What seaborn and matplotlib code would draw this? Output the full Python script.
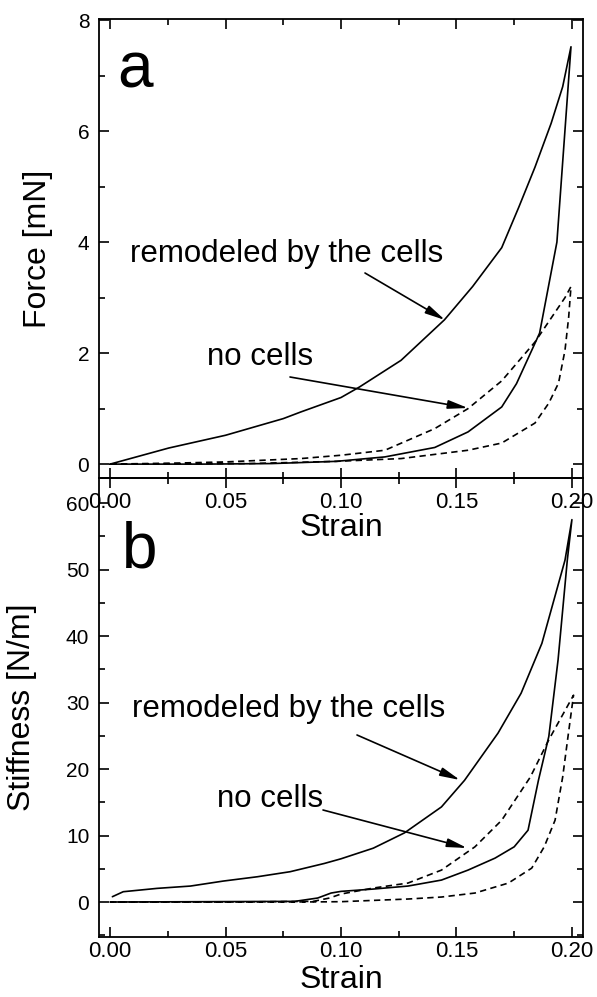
import numpy as np
import pandas as pd
import matplotlib
matplotlib.use("Agg")
import matplotlib.pyplot as plt
from matplotlib.ticker import MultipleLocator
import seaborn as sns

# ---------------- data ----------------
# Panel a: Force [mN] vs Strain
f_cells_load_x = [0.0, 0.0254, 0.05, 0.075, 0.0826, 0.1, 0.108, 0.126, 0.1448, 0.157, 0.1696,
                  0.177, 0.184, 0.191, 0.196, 0.1996]
f_cells_load_y = [0.0, 0.29, 0.52, 0.82, 0.94, 1.2, 1.39, 1.87, 2.6, 3.2, 3.9,
                  4.63, 5.35, 6.14, 6.8, 7.52]
f_cells_unl_x = [0.1996, 0.1935, 0.186, 0.1826, 0.176, 0.1696, 0.155, 0.1406, 0.119, 0.098, 0.07, 0.04, 0.0]
f_cells_unl_y = [7.52, 4.0, 2.36, 2.05, 1.45, 1.03, 0.58, 0.3, 0.13, 0.05, 0.01, 0.0, 0.0]
f_none_load_x = [0.0, 0.03, 0.05, 0.0826, 0.1, 0.119, 0.1406, 0.155, 0.1696, 0.184, 0.197, 0.1996]
f_none_load_y = [0.0, 0.02, 0.04, 0.1, 0.16, 0.25, 0.64, 1.0, 1.5, 2.2, 3.0, 3.2]
f_none_unl_x = [0.1996, 0.1986, 0.197, 0.1942, 0.19, 0.184, 0.1696, 0.155, 0.126, 0.098, 0.06, 0.0]
f_none_unl_y = [3.2, 2.65, 2.05, 1.46, 1.1, 0.74, 0.38, 0.25, 0.1, 0.05, 0.01, 0.0]

# Panel b: Stiffness [N/m] vs Strain
s_cells_load_x = [0.001, 0.0057, 0.0203, 0.0348, 0.049, 0.0638, 0.078, 0.0928, 0.1, 0.114, 0.1275,
                  0.1435, 0.1535, 0.168, 0.178, 0.187, 0.197, 0.2]
s_cells_load_y = [0.8, 1.55, 2.05, 2.4, 3.15, 3.8, 4.56, 5.8, 6.5, 8.1, 10.4,
                  14.3, 18.3, 25.4, 31.4, 38.9, 51.4, 57.5]
s_cells_unl_x = [0.2, 0.198, 0.194, 0.19, 0.1855, 0.181, 0.175, 0.1667, 0.155, 0.1435, 0.129,
                 0.114, 0.1, 0.0957, 0.0899, 0.08, 0.04, 0.0]
s_cells_unl_y = [57.5, 51.4, 36.4, 24.9, 18.3, 10.8, 8.3, 6.6, 4.8, 3.3, 2.4,
                 1.95, 1.6, 1.35, 0.6, 0.1, 0.05, 0.0]
s_none_load_x = [0.0, 0.05, 0.088, 0.095, 0.1, 0.114, 0.129, 0.1435, 0.158, 0.1696, 0.182, 0.19, 0.2007]
s_none_load_y = [0.0, 0.0, 0.1, 0.6, 1.2, 2.1, 2.85, 4.8, 8.3, 12.3, 18.8, 24.4, 31.1]
s_none_unl_x = [0.2007, 0.1985, 0.196, 0.1927, 0.188, 0.1826, 0.1725, 0.158, 0.1435, 0.129, 0.1, 0.09, 0.05, 0.0]
s_none_unl_y = [31.1, 25.4, 18.8, 12.3, 8.3, 5.1, 2.85, 1.35, 0.75, 0.45, 0.05, 0.02, 0.0, 0.0]

x_ticks = [0.00, 0.05, 0.10, 0.15, 0.20]
x_ticklabels = ["0.00", "0.05", "0.10", "0.15", "0.20"]
force_ticks = [0, 2, 4, 6, 8]
stiff_ticks = [0, 10, 20, 30, 40, 50, 60]

label_cells = "remodeled by the cells"
label_none = "no cells"

# ---------------- style ----------------
sns.set_theme(style="ticks")
plt.rcParams['font.family'] = ['Liberation Sans', 'DejaVu Sans']
plt.rcParams['axes.linewidth'] = 1.3
for k in ("text.color", "axes.labelcolor", "xtick.color", "ytick.color", "axes.edgecolor"):
    plt.rcParams[k] = "black"

W, H = 597, 997
fig = plt.figure(figsize=(W / 100, H / 100), dpi=100)
fig.patch.set_facecolor("white")

def frac(px, py):
    return (px / W, 1 - py / H)

L, R = 99, 583
ax2 = fig.add_axes([L / W, 1 - 937 / H, (R - L) / W, (937 - 478) / H])
ax1 = fig.add_axes([L / W, 1 - 478 / H, (R - L) / W, (478 - 19) / H])
ax1.set_zorder(3)
ax2.set_zorder(2)

DASH = (0, (3.8, 2.6))

def draw(ax, lx, ly, ux, uy, ls):
    df = pd.DataFrame({"x": list(lx) + list(ux), "y": list(ly) + list(uy)})
    sns.lineplot(data=df, x="x", y="y", sort=False, estimator=None, ax=ax,
                 color="black", lw=1.2, linestyle=ls)

draw(ax1, f_cells_load_x, f_cells_load_y, f_cells_unl_x, f_cells_unl_y, "-")
draw(ax1, f_none_load_x, f_none_load_y, f_none_unl_x, f_none_unl_y, DASH)
draw(ax2, s_cells_load_x, s_cells_load_y, s_cells_unl_x, s_cells_unl_y, "-")
draw(ax2, s_none_load_x, s_none_load_y, s_none_unl_x, s_none_unl_y, DASH)

for ax in (ax1, ax2):
    ax.set_xlim(-0.0048, 0.2048)
    ax.set_xticks(x_ticks)
    ax.set_xticklabels(x_ticklabels)
    ax.xaxis.set_minor_locator(MultipleLocator(0.025))
    ax.tick_params(which="both", direction="in", top=True, right=True,
                   colors="black", width=1.2)
    ax.tick_params(which="major", length=7)
    ax.tick_params(which="minor", length=4)
    ax.tick_params(axis="y", labelsize=15, pad=7)
    for sp in ax.spines.values():
        sp.set_visible(True)
        sp.set_color("black")
    ax.patch.set_alpha(0.0)
    ax.set_xlabel("Strain", fontsize=23)
    ax.xaxis.label.set_va("top")

ax1.tick_params(axis="x", labelsize=16, pad=10)
ax2.tick_params(axis="x", labelsize=16, pad=3)

ax1.set_ylim(-0.25, 8.02)
ax1.set_yticks(force_ticks)
ax1.yaxis.set_minor_locator(MultipleLocator(1))
ax1.set_ylabel("Force [mN]", fontsize=23)
ax1.yaxis.label.set_va("center")
ax1.yaxis.set_label_coords((38 - L) / (R - L), 0.5)
ax1.xaxis.set_label_coords(0.5, (478 - 513) / 459)

ax2.set_ylim(-5.26, 63.76)
ax2.set_yticks(stiff_ticks)
ax2.yaxis.set_minor_locator(MultipleLocator(5))
ax2.set_ylabel("Stiffness [N/m]", fontsize=23)
ax2.yaxis.label.set_va("center")
ax2.yaxis.set_label_coords((22 - L) / (R - L), 0.5)
ax2.xaxis.set_label_coords(0.5, (937 - 965) / 459)

# panel letters
fig.text(*frac(117, 87), "a", fontsize=46, va="baseline", ha="left")
fig.text(*frac(122, 567), "b", fontsize=46, va="baseline", ha="left")

# annotations
fig.text(*frac(130, 262), label_cells, fontsize=22.5, va="baseline", ha="left")
fig.text(*frac(207, 365), label_none, fontsize=22.5, va="baseline", ha="left")
fig.text(*frac(132, 717), label_cells, fontsize=22.5, va="baseline", ha="left")
fig.text(*frac(217, 807), label_none, fontsize=22.5, va="baseline", ha="left")

arrow_kw = dict(arrowstyle="-|>,head_length=0.6,head_width=0.13", color="black", lw=1.2,
                shrinkA=0, shrinkB=0)
for (x0, y0, x1, y1) in [(365, 273, 445, 320), (290, 377, 468, 408),
                         (357, 735, 460, 780), (323, 810, 467, 848)]:
    fig.add_artist(matplotlib.patches.FancyArrowPatch(
        frac(x0, y0), frac(x1, y1), transform=fig.transFigure,
        mutation_scale=20, **arrow_kw))

fig.savefig("out.png", dpi=100, facecolor="white")
